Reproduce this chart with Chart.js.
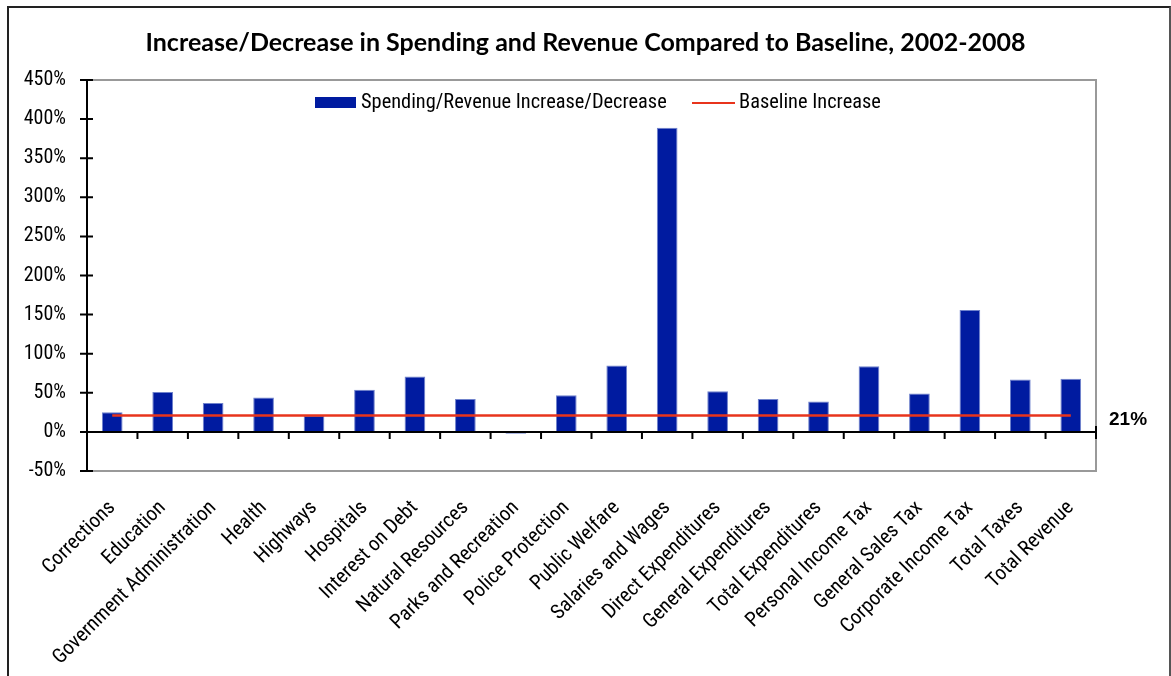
<!DOCTYPE html>
<html>
<head>
<meta charset="utf-8">
<script src="https://cdn.jsdelivr.net/npm/chart.js@4.4.1/dist/chart.umd.min.js"></script>
<style>
  html, body { margin: 0; padding: 0; background: #fff; overflow: hidden; }
  #wrap { position: relative; width: 1171px; height: 676px; }
  #c { position: absolute; left: 0; top: 0; }
  #frame { position: absolute; left: 7px; top: 6px; width: 1160px; height: 700px;
           border-left: 2px solid #222; border-top: 2px solid #222; border-right: 2px solid #555;
           pointer-events: none; }
</style>
</head>
<body>
<div id="wrap">
  <canvas id="c" width="1171" height="676"></canvas>
  <div id="frame"></div>
</div>
<script>
const titleText = "Increase/Decrease in Spending and Revenue Compared to Baseline, 2002-2008";
const categories = [
  "Corrections", "Education", "Government Administration", "Health", "Highways",
  "Hospitals", "Interest on Debt", "Natural Resources", "Parks and Recreation",
  "Police Protection", "Public Welfare", "Salaries and Wages", "Direct Expenditures",
  "General Expenditures", "Total Expenditures", "Personal Income Tax", "General Sales Tax",
  "Corporate Income Tax", "Total Taxes", "Total Revenue"
];
const changeValues = [25, 51, 37, 44, 21, 54, 71, 42, -2.5, 47, 85, 389, 52, 42, 39, 84, 49, 156, 67, 68];
const baselineValue = 21;
const baselineValues = categories.map(() => baselineValue);
const seriesNames = ["Spending/Revenue Increase/Decrease", "Baseline Increase"];
const yTicks = [-50, 0, 50, 100, 150, 200, 250, 300, 350, 400, 450];

const NARROW = "'Liberation Sans Narrow', 'Arial Narrow', 'Roboto Condensed', sans-serif";
const BLUE = '#001BA0';
const RED = '#E8341C';

const decor = {
  id: 'decor',
  afterDatasetsDraw(chart) {
    const ctx = chart.ctx;
    const a = chart.chartArea;
    const y = chart.scales.y;
    ctx.save();
    ctx.strokeStyle = '#999';
    ctx.lineWidth = 2;
    ctx.beginPath();
    ctx.moveTo(a.left, a.top); ctx.lineTo(a.right, a.top);
    ctx.lineTo(a.right, a.bottom); ctx.lineTo(a.left, a.bottom);
    ctx.stroke();
    ctx.strokeStyle = '#000';
    ctx.lineWidth = 2;
    ctx.beginPath();
    ctx.moveTo(a.left, a.top); ctx.lineTo(a.left, a.bottom);
    yTicks.forEach(v => {
      const py = y.getPixelForValue(v);
      ctx.moveTo(a.left - 7, py); ctx.lineTo(a.left + 6, py);
    });
    ctx.stroke();
    const y0 = y.getPixelForValue(0);
    ctx.beginPath();
    ctx.moveTo(a.left, y0); ctx.lineTo(a.right, y0);
    const n = categories.length;
    const w = (a.right - a.left) / n;
    for (let i = 1; i <= n; i++) {
      const px = a.left + i * w;
      ctx.moveTo(px, y0 - (i === n ? 6 : 0)); ctx.lineTo(px, y0 + 7);
    }
    ctx.stroke();
    ctx.fillStyle = '#000';
    ctx.font = "bold 19px 'Liberation Sans', Arial, sans-serif";
    ctx.textAlign = 'left';
    ctx.textBaseline = 'middle';
    ctx.fillText(baselineValue + '%', a.right + 13, y.getPixelForValue(baselineValue) + 4);
    const ds = chart.data.datasets;
    ctx.font = "20.4px " + NARROW;
    ctx.fillStyle = ds[0].backgroundColor;
    ctx.fillRect(315, 97, 41, 11);
    ctx.fillStyle = '#000';
    ctx.fillText(ds[0].label, 361, 103);
    ctx.strokeStyle = ds[1].borderColor;
    ctx.lineWidth = 2;
    ctx.beginPath(); ctx.moveTo(692, 103); ctx.lineTo(735, 103); ctx.stroke();
    ctx.fillText(ds[1].label, 739, 103);
    ctx.restore();
  }
};

new Chart(document.getElementById('c'), {
  data: {
    labels: categories,
    datasets: [
      { type: 'bar', label: seriesNames[0], data: changeValues, backgroundColor: BLUE,
        borderColor: '#6F82CC', borderWidth: 1, categoryPercentage: 1.0, barPercentage: 0.41, order: 1 },
      { type: 'line', label: seriesNames[1], data: baselineValues, borderColor: RED,
        backgroundColor: RED, borderWidth: 2.5, pointRadius: 0, order: 0 }
    ]
  },
  options: {
    responsive: false,
    animation: false,
    layout: { padding: { left: 0, right: 0, top: 0, bottom: 0 } },
    plugins: {
      legend: { display: false },
      tooltip: { enabled: false },
      title: {
        display: true, text: titleText, color: '#000',
        font: { family: "Lato, 'Open Sans', sans-serif", size: 25, weight: 'bold' },
        padding: { top: 28, bottom: 22 }
      }
    },
    scales: {
      x: {
        grid: { display: false }, border: { display: false },
        ticks: { color: '#000', autoSkip: false, minRotation: 45, maxRotation: 45,
                 padding: 17, font: { family: NARROW, size: 20.5 } },
        afterFit: s => { s.height = 205; }
      },
      y: {
        min: -50, max: 450,
        grid: { display: false }, border: { display: false },
        ticks: { stepSize: 50, color: '#000', padding: 13,
                 font: { family: NARROW, size: 20 }, callback: v => v + '%' },
        afterFit: s => { s.width = 87; }
      },
      yRight: {
        position: 'right', min: -50, max: 450,
        grid: { display: false }, border: { display: false },
        ticks: { display: false },
        afterFit: s => { s.width = 75; }
      }
    }
  },
  plugins: [decor]
});
</script>
</body>
</html>
